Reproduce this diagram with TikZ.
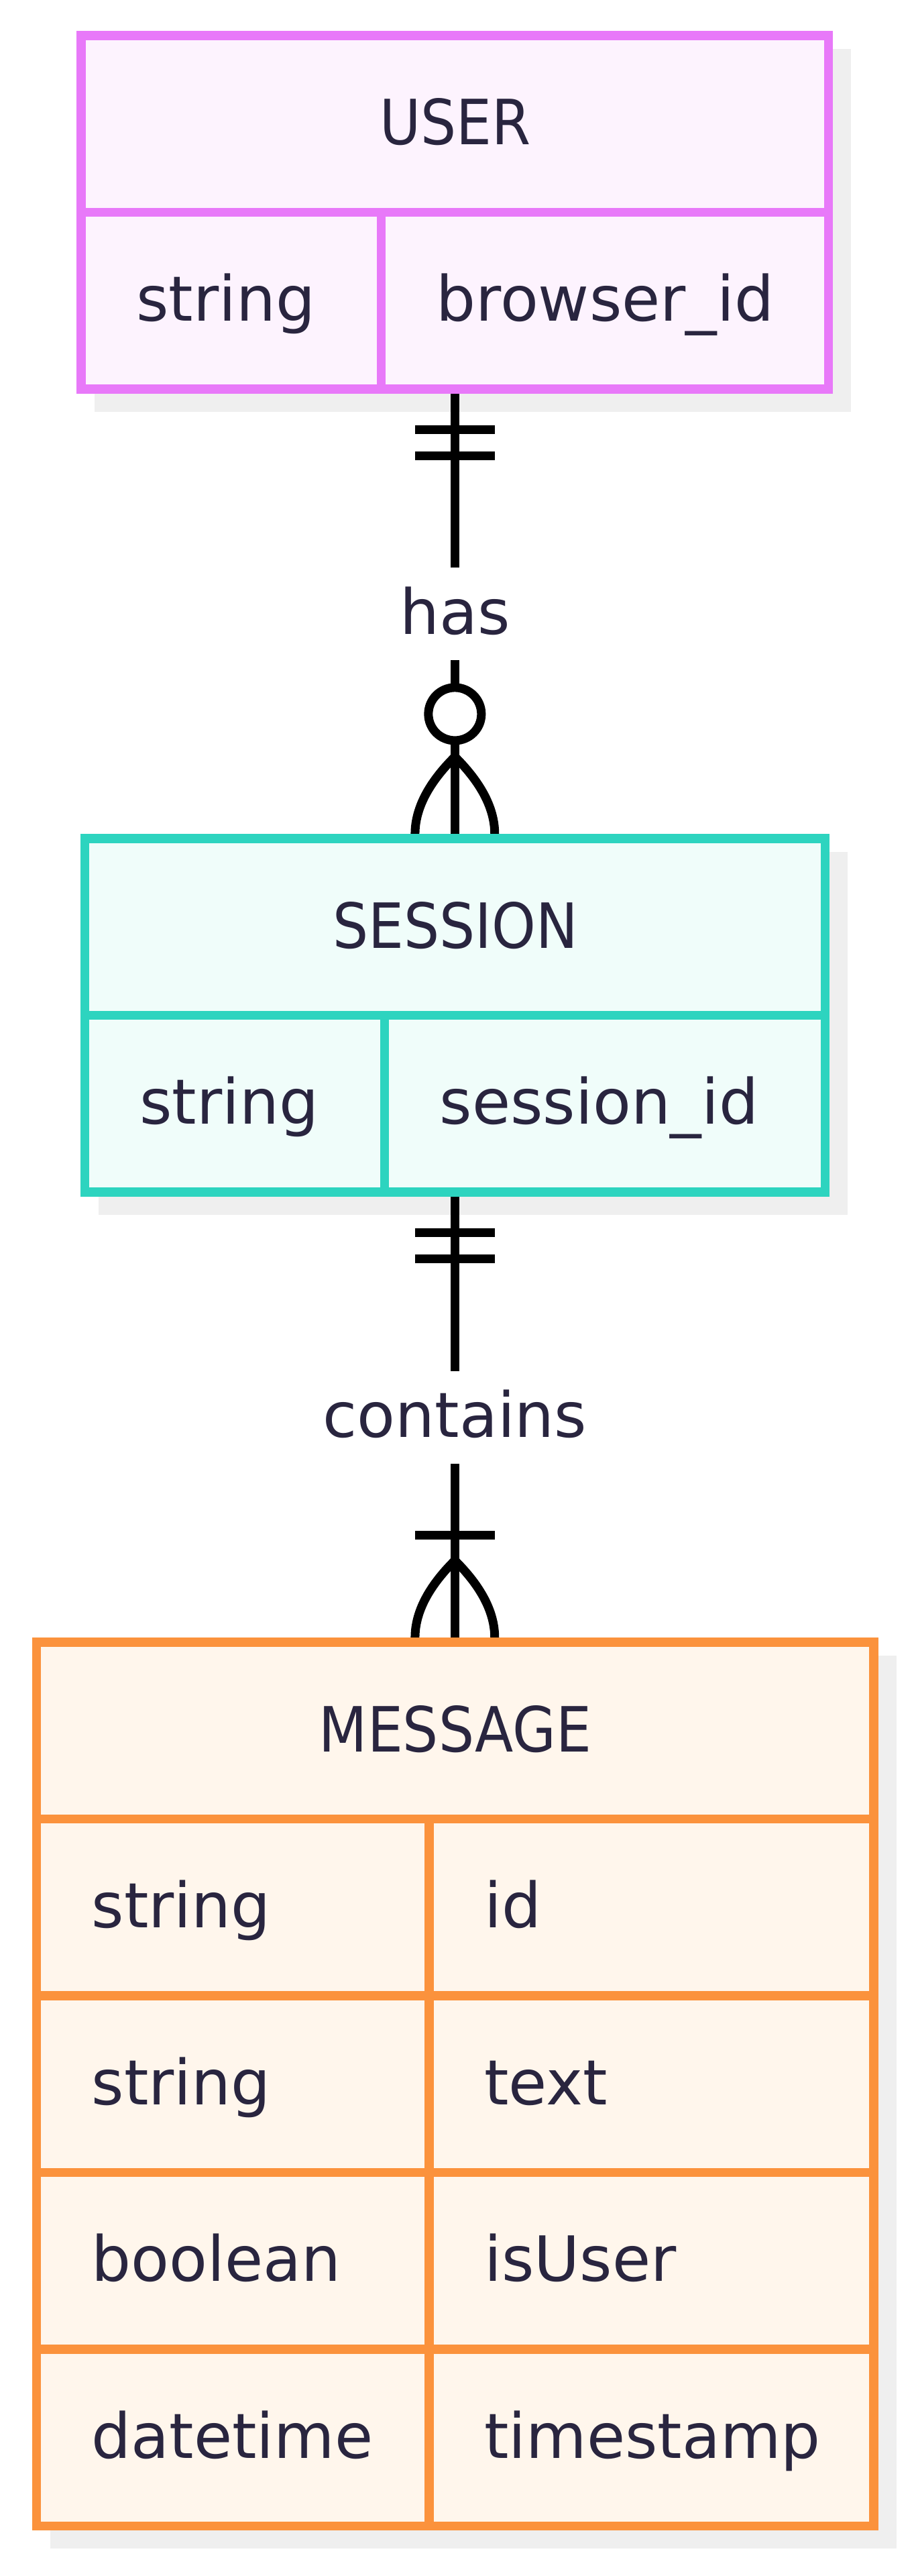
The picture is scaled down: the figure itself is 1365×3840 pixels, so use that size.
\documentclass[tikz,border=0pt]{standalone}
\usepackage{fontspec}
\setmainfont{DejaVu Sans}
\newfontfamily\hdrfont[FakeStretch=0.9]{DejaVu Sans}
\usetikzlibrary{calc}
\definecolor{txtc}{HTML}{29253F}
\definecolor{shadowc}{HTML}{EFEFEF}
\definecolor{userstroke}{HTML}{E879F9}
\definecolor{userfill}{HTML}{FDF3FE}
\definecolor{sessstroke}{HTML}{2DD4BF}
\definecolor{sessfill}{HTML}{F0FDFA}
\definecolor{msgstroke}{HTML}{FB923C}
\definecolor{msgfill}{HTML}{FFF6EC}
\pgfdeclarelayer{shadowlayer}
\pgfdeclarelayer{connlayer}
\pgfsetlayers{shadowlayer,connlayer,main}
\tikzset{
  entity/.style={rectangle, draw, line width=13.5pt, inner sep=0pt, outer sep=6.75pt},
  divline/.style={line width=13.5pt},
  conn/.style={line width=13pt, black, line cap=butt},
  lbl/.style={fill=white, inner xsep=4pt, inner ysep=0pt, text height=99pt, text depth=39pt,
    text=txtc, font=\fontsize{93}{110}\selectfont},
  hdr/.style={anchor=base, inner sep=0pt, text=txtc, font=\hdrfont\fontsize{93}{110}\selectfont},
  attr/.style={anchor=base west, inner sep=0pt, text=txtc, font=\fontsize{93}{110}\selectfont},
  zerocirc/.style={circle, draw, fill=white, line width=13pt, minimum size=79pt, inner sep=0pt}
}
\begin{document}
\begin{tikzpicture}[x=1pt,y=-1pt]
\useasboundingbox (0,0) rectangle (1365,3840);

% ---------- entities ----------
\node[entity, draw=userstroke, fill=userfill, minimum width=1114.7pt, minimum height=527pt] (user) at (678.35,316.5) {};
\node[entity, draw=sessstroke, fill=sessfill, minimum width=1104.1pt, minimum height=527pt] (session) at (678.35,1513.5) {};
\node[entity, draw=msgstroke, fill=msgfill, minimum width=1248.5pt, minimum height=1317.5pt] (message) at (678.75,3106.75) {};

% shadows
\begin{pgfonlayer}{shadowlayer}
\fill[shadowc] ($(user.south west)+(27,27)$) rectangle ($(user.north east)+(27,27)$);
\fill[shadowc] ($(session.south west)+(27,27)$) rectangle ($(session.north east)+(27,27)$);
\fill[shadowc] ($(message.south west)+(27,27)$) rectangle ($(message.north east)+(27,27)$);
\end{pgfonlayer}

% USER internals
\draw[divline, userstroke] (121,316.5) -- (1235.7,316.5);
\draw[divline, userstroke] (568.5,316.5) -- (568.5,580);
\node[hdr] (usertitle) at (679,215.5) {USER};
\node[attr] (usertype) at (203,478.5) {string};
\node[attr] (username) at (650.5,478.5) {browser\_id};

% SESSION internals
\draw[divline, sessstroke] (126.3,1513.5) -- (1230.4,1513.5);
\draw[divline, sessstroke] (573.5,1513.5) -- (573.5,1777);
\node[hdr] (sesstitle) at (679,1413) {SESSION};
\node[attr] (sesstype) at (208.3,1675.5) {string};
\node[attr] (sessname) at (655.5,1675.5) {session\_id};

% MESSAGE internals
\foreach \yy in {2711.5,2975,3238.5,3502}
  \draw[divline, msgstroke] (54.5,\yy) -- (1303,\yy);
\draw[divline, msgstroke] (640,2711.5) -- (640,3765.5);
\node[hdr] (msgtitle) at (679,2611) {MESSAGE};
\node[attr] (msgt1) at (136.5,2873.5) {string};
\node[attr] (msgn1) at (722,2873.5) {id};
\node[attr] (msgt2) at (136.5,3137) {string};
\node[attr] (msgn2) at (722,3137) {text};
\node[attr] (msgt3) at (136.5,3400.5) {boolean};
\node[attr] (msgn3) at (722,3400.5) {isUser};
\node[attr] (msgt4) at (136.5,3664) {datetime};
\node[attr] (msgn4) at (722,3664) {timestamp};

% ---------- connectors ----------
\begin{pgfonlayer}{connlayer}
% USER ||--o{ SESSION
\draw[conn] (user.south) -- (session.north);
\draw[conn] ($(user.south)+(-59.5,53.75)$) -- ($(user.south)+(59.5,53.75)$);
\draw[conn] ($(user.south)+(-59.5,92.75)$) -- ($(user.south)+(59.5,92.75)$);
\draw[conn] ($(session.north)+(0,-115.25)$) .. controls ($(session.north)+(-39.6,-75.95)$) and ($(session.north)+(-59.4,-37.5)$) .. ($(session.north)+(-59.4,0)$);
\draw[conn] ($(session.north)+(0,-115.25)$) .. controls ($(session.north)+(39.6,-75.95)$) and ($(session.north)+(59.4,-37.5)$) .. ($(session.north)+(59.4,0)$);
\node[zerocirc] (zero1) at ($(session.north)+(0,-178.85)$) {};
\node[lbl] (haslbl) at ($(user.south)!0.5!(session.north)$) {has};

% SESSION ||--|{ MESSAGE
\coordinate (msgtop) at (session.south |- message.north);
\draw[conn] (session.south) -- (msgtop);
\draw[conn] ($(session.south)+(-59.5,53.25)$) -- ($(session.south)+(59.5,53.25)$);
\draw[conn] ($(session.south)+(-59.5,92.25)$) -- ($(session.south)+(59.5,92.25)$);
\draw[conn] ($(msgtop)+(-59.5,-153.25)$) -- ($(msgtop)+(59.5,-153.25)$);
\draw[conn] ($(msgtop)+(0,-115.25)$) .. controls ($(msgtop)+(-39.6,-75.95)$) and ($(msgtop)+(-59.4,-37.5)$) .. ($(msgtop)+(-59.4,0)$);
\draw[conn] ($(msgtop)+(0,-115.25)$) .. controls ($(msgtop)+(39.6,-75.95)$) and ($(msgtop)+(59.4,-37.5)$) .. ($(msgtop)+(59.4,0)$);
\node[lbl] (containslbl) at ($(session.south)!0.5!(msgtop)$) {contains};
\end{pgfonlayer}
\end{tikzpicture}
\end{document}
